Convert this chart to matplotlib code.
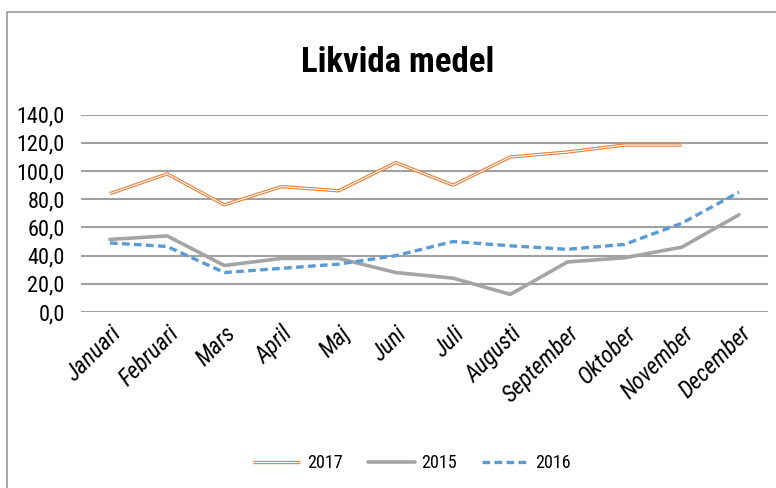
import matplotlib
matplotlib.use("Agg")
import matplotlib.pyplot as plt
from matplotlib.patches import Rectangle
from matplotlib.ticker import FuncFormatter
import numpy as np

months = ['Januari', 'Februari', 'Mars', 'April', 'Maj', 'Juni', 'Juli',
          'Augusti', 'September', 'Oktober', 'November', 'December']
values_2017 = [84, 98, 76, 89, 86, 106, 90, 110, 113.5, 118.5, 118.5, np.nan]
values_2015 = [51.5, 54, 33, 38, 38, 28, 24, 12.5, 35.5, 38.5, 46, 69]
values_2016 = [49, 46.5, 28, 31, 34, 40, 50, 47, 44.5, 48, 63, 85]

plt.rcParams['font.family'] = ['Roboto Condensed', 'Liberation Sans Narrow', 'Lato', 'DejaVu Sans']

fig = plt.figure(figsize=(7.76, 4.88), dpi=100)
ax = fig.add_axes([81.4 / 776, 1 - 312 / 488, (767.6 - 81.4) / 776, (312 - 114.7) / 488])

x = np.arange(len(months))
orange, = ax.plot(x, values_2017, color='#ed7d31', lw=2.4, solid_capstyle='butt', zorder=3)
white, = ax.plot(x, values_2017, color='white', lw=0.8, solid_capstyle='butt', zorder=4)
gray, = ax.plot(x, values_2015, color='#a5a5a5', lw=2.6, solid_capstyle='round', zorder=3)
blue, = ax.plot(x, values_2016, color='#5b9bd5', lw=2.4, dashes=(2.3, 1.3),
                dash_capstyle='butt', zorder=3)

ax.set_xlim(-0.5, len(months) - 0.5)
ax.set_ylim(0, 140)
ax.set_yticks(np.arange(0, 141, 20))
ax.yaxis.set_major_formatter(FuncFormatter(lambda v, p: ('%.1f' % v).replace('.', ',')))
ax.grid(axis='y', color='#a0a0a0', lw=1.5)
ax.set_axisbelow(True)
for s in ax.spines.values():
    s.set_visible(False)
ax.tick_params(length=0, labelsize=16, pad=12)
ax.set_xticks(x)
ax.set_xticklabels(months, rotation=45, ha='right', rotation_mode='anchor',
                   style='italic', fontsize=17)
ax.tick_params(axis='x', pad=7)

fig.text(0.513, 1 - 62 / 488, 'Likvida medel', ha='center', va='center',
         fontsize=25, fontweight='bold')

fig.legend([(orange, white), gray, blue], ['2017', '2015', '2016'],
           loc='center', bbox_to_anchor=(412 / 776, 1 - 463 / 488), ncol=3,
           frameon=False, fontsize=13, handlelength=2.6, handletextpad=0.35,
           columnspacing=1.4)

fig.patches.append(Rectangle((7 / 776, -0.05), 1.1, 1 - 12 / 488 + 0.05,
                             transform=fig.transFigure, fill=False,
                             edgecolor='#9a9a9a', lw=1.2))

fig.savefig('out.png', dpi=100)
